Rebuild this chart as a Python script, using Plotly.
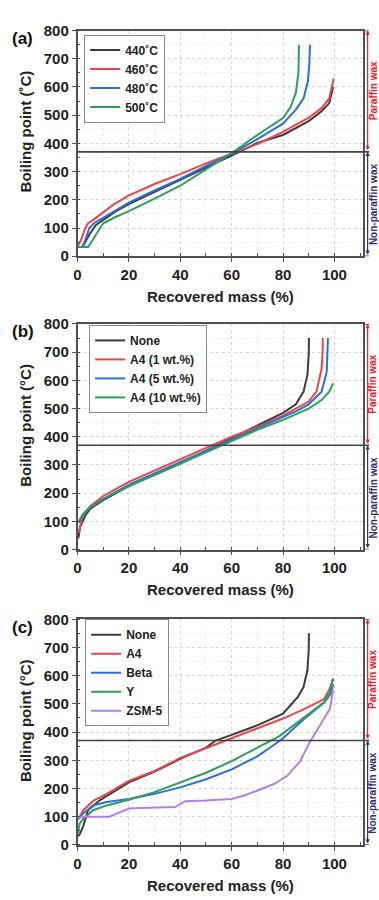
import plotly.graph_objects as go

# ---------------- data ----------------
# Panel (a): reaction temperature
a_labels = ["440˚C", "460˚C", "480˚C", "500˚C"]
a440_x = [0.5, 1.7, 3, 4.6, 7.2, 11, 15, 20, 30, 40, 50, 60, 63, 70, 80, 90, 95, 98, 99.5]
a440_y = [33, 33, 50, 77, 111, 135, 160, 185, 228, 270, 315, 357, 370, 402, 430, 479, 514, 543, 600]
a460_x = [0.1, 1.5, 2.8, 4.1, 6, 8.6, 13.7, 20, 30, 40, 50, 60, 70, 80, 90, 95, 98, 99.7]
a460_y = [36, 60, 95, 117, 128, 146, 181, 216, 256, 291, 329, 364, 398, 441, 491, 525, 560, 630]
a480_x = [1.2, 2, 3.3, 4.6, 6.5, 8.6, 13.7, 20, 30, 40, 50, 60, 70, 80, 85, 88, 89.7, 90.3, 90.5]
a480_y = [33, 33, 65, 100, 118, 129, 155, 190, 233, 274, 320, 364, 415, 470, 520, 560, 620, 690, 750]
a500_x = [0.1, 2, 4.1, 5, 6, 8, 10, 15, 20, 30, 40, 50, 60, 70, 80, 83, 85, 86, 86.2]
a500_y = [33, 33, 33, 45, 59, 90, 117, 140, 160, 204, 250, 308, 366, 430, 490, 530, 580, 650, 750]

# Panel (b): A4 loading
b_labels = ["None", "A4 (1 wt.%)", "A4 (5 wt.%)", "A4 (10 wt.%)"]
bN_x = [0.3, 1, 3, 5, 10, 20, 30, 40, 50, 60, 70, 80, 85, 88, 89.5, 90, 90.1]
bN_y = [40, 80, 120, 145, 175, 225, 265, 305, 350, 395, 440, 485, 515, 560, 620, 690, 750]
b1_x = [0.5, 2, 5, 10, 20, 30, 40, 50, 60, 70, 80, 85, 90, 93, 95, 95.4, 95.5]
b1_y = [60, 120, 155, 190, 240, 280, 320, 360, 400, 435, 475, 500, 525, 560, 640, 700, 750]
b5_x = [0.5, 2, 5, 10, 20, 30, 40, 50, 60, 70, 80, 85, 90, 95, 97, 97.4, 97.5]
b5_y = [95, 120, 150, 180, 230, 270, 310, 350, 390, 430, 470, 490, 515, 560, 630, 700, 750]
b10_x = [0.5, 2, 5, 10, 20, 30, 40, 50, 60, 70, 80, 85, 90, 95, 98, 99.5]
b10_y = [100, 125, 150, 180, 225, 265, 305, 345, 385, 425, 460, 480, 500, 530, 560, 590]

# Panel (c): catalyst type
c_labels = ["None", "A4", "Beta", "Y", "ZSM-5"]
cN_x = [0.2, 1, 2.2, 4.1, 8.6, 20, 30, 40, 50, 53.8, 60, 70, 80, 85.8, 88, 89.5, 90, 90.1]
cN_y = [30, 40, 66, 123, 158, 222, 260, 305, 345, 370, 390, 424, 465, 525, 560, 620, 690, 750]
cA4_x = [0.2, 2.2, 6.4, 11.4, 20, 30, 40, 50, 56.4, 60, 70, 80, 88.4, 96, 98, 99.5]
cA4_y = [90, 123, 158, 181, 227, 262, 308, 343, 366, 378, 413, 448, 482, 517, 550, 590]
cB_x = [0.2, 2, 6, 11.4, 20, 30, 40, 50, 60, 70, 75.6, 80, 88.4, 96, 98.5, 99.5]
cB_y = [90, 110, 140, 152, 163, 181, 204, 233, 268, 314, 349, 378, 448, 505, 535, 570]
cY_x = [0.2, 0.8, 2, 6, 11.4, 20, 30, 40, 50, 60, 70, 78.3, 88.4, 96, 98.5, 99.5]
cY_y = [42, 75, 90, 123, 140, 160, 187, 222, 256, 297, 343, 384, 453, 506, 550, 590]
cZ_x = [0.2, 1, 5, 12.5, 15, 18, 20, 25, 30, 38, 40, 42, 50, 55, 60, 65, 70, 76.5,
        81.6, 86.7, 90.5, 94.4, 98.3, 99.5]
cZ_y = [88, 100, 100, 100, 110, 122, 129, 131, 132, 134, 145, 155, 157, 160, 163, 175, 192, 216,
        245, 297, 366, 424, 483, 550]

x_ticks = [0, 20, 40, 60, 80, 100]
y_ticks = [0, 100, 200, 300, 400, 500, 600, 700, 800]
wax_cut = 370

# ---------------- styling ----------------
BLACK = "#3c3c3c"
RED = "#e8474a"
BLUE = "#2e6fd8"
GREEN = "#2f9e5c"
PURPLE = "#b57ee6"
AX = "#505050"
FONT = "Liberation Sans"

W, H = 379, 900
xl, xr = 74.3, 363.0
panels = [(22, 252), (321, 551), (622, 852)]

fig = go.Figure()

series = [
    [(a440_x, a440_y, a_labels[0], BLACK), (a460_x, a460_y, a_labels[1], RED),
     (a480_x, a480_y, a_labels[2], BLUE), (a500_x, a500_y, a_labels[3], GREEN)],
    [(bN_x, bN_y, b_labels[0], BLACK), (b1_x, b1_y, b_labels[1], RED),
     (b5_x, b5_y, b_labels[2], BLUE), (b10_x, b10_y, b_labels[3], GREEN)],
    [(cN_x, cN_y, c_labels[0], BLACK), (cA4_x, cA4_y, c_labels[1], RED),
     (cB_x, cB_y, c_labels[2], BLUE), (cY_x, cY_y, c_labels[3], GREEN),
     (cZ_x, cZ_y, c_labels[4], PURPLE)],
]
legend_pos = [(81, 26), (86, 322), (82, 622)]
panel_tags = ["(a)", "(b)", "(c)"]
ytitles = ["Boiling point (˚C)", "Boiling point (°C)", "Boiling point (°C)"]

def px_x(p):
    return p / W

def px_y(p):
    return 1 - p / H

BOLD = dict(family=FONT, weight="bold")

annotations = []
shapes = []
for i, (top, bot) in enumerate(panels):
    n = "" if i == 0 else str(i + 1)
    xa, ya = "x" + n, "y" + n
    lg = "legend" + n
    for xs, ys, name, col in series[i]:
        fig.add_trace(go.Scatter(x=xs, y=ys, name=name, mode="lines",
                                 line=dict(color=col, width=2),
                                 xaxis=xa, yaxis=ya, legend=lg))
    axis_common = dict(showline=True, linecolor=AX, linewidth=1.5, mirror=True,
                       ticks="outside", ticklen=4, tickcolor=AX, tickwidth=1.2,
                       showgrid=True, gridcolor="#d6d6d6", griddash="dot", gridwidth=1,
                       zeroline=False,
                       tickfont=dict(BOLD, size=15, color="#222"),
                       minor=dict(ticks="inside", ticklen=3, tickcolor=AX,
                                  showgrid=True, gridcolor="#ededed", griddash="dot"))
    fig.layout["xaxis" + n] = dict(axis_common, domain=[px_x(xl), px_x(xr)],
                                   range=[0, 111.2], tickvals=x_ticks,
                                   minor=dict(axis_common["minor"], dtick=10),
                                   anchor=ya)
    fig.layout["yaxis" + n] = dict(axis_common, domain=[px_y(bot), px_y(top)],
                                   range=[0, 800], tickvals=y_ticks,
                                   minor=dict(axis_common["minor"], dtick=50),
                                   anchor=xa)
    lx, ly = legend_pos[i]
    fig.layout[lg] = dict(x=px_x(lx), y=px_y(ly), xanchor="left", yanchor="top",
                          bgcolor="white", bordercolor="#888", borderwidth=1,
                          font=dict(BOLD, size=12, color="#222"),
                          tracegroupgap=0, itemwidth=30)
    # wax cut line and box extensions
    shapes.append(dict(type="line", xref="paper", yref=ya, x0=px_x(xl), x1=px_x(369),
                       y0=wax_cut, y1=wax_cut, line=dict(color="#444", width=1.6)))
    shapes.append(dict(type="line", xref="paper", yref=ya, x0=px_x(xr), x1=px_x(369),
                       y0=800, y1=800, line=dict(color=AX, width=1.5)))
    shapes.append(dict(type="line", xref="paper", yref=ya, x0=px_x(xr), x1=px_x(369),
                       y0=0, y1=0, line=dict(color=AX, width=1.5)))
    # arrows
    annotations.append(dict(xref="paper", yref=ya, x=px_x(367.5), y=800,
                            axref="pixel", ayref=ya, ax=0, ay=wax_cut, text="",
                            showarrow=True, arrowside="end+start", arrowhead=2,
                            arrowsize=0.7, arrowwidth=1.2, arrowcolor="#e8202a"))
    annotations.append(dict(xref="paper", yref=ya, x=px_x(367.5), y=wax_cut,
                            axref="pixel", ayref=ya, ax=0, ay=0, text="",
                            showarrow=True, arrowside="end+start", arrowhead=2,
                            arrowsize=0.7, arrowwidth=1.2, arrowcolor="#2a2f7a"))
    annotations.append(dict(xref="paper", yref=ya, x=px_x(373), y=(800 + wax_cut) / 2,
                            xanchor="center", yanchor="middle",
                            text="Paraffin wax", textangle=-90, showarrow=False,
                            font=dict(BOLD, size=10, color="#e8202a")))
    annotations.append(dict(xref="paper", yref=ya, x=px_x(373), y=wax_cut / 2,
                            xanchor="center", yanchor="middle",
                            text="Non-paraffin wax", textangle=-90, showarrow=False,
                            font=dict(BOLD, size=10, color="#2a2f7a")))
    # titles
    annotations.append(dict(xref="paper", yref="paper", x=px_x(22), y=px_y(top + 103),
                            xanchor="center", yanchor="middle",
                            text=ytitles[i], textangle=-90, showarrow=False,
                            font=dict(BOLD, size=15, color="#222")))
    annotations.append(dict(xref="paper", yref="paper", x=px_x((xl + xr) / 2), y=px_y(bot + 41),
                            xanchor="center", yanchor="middle",
                            text="Recovered mass (%)", showarrow=False,
                            font=dict(BOLD, size=15, color="#222")))
    annotations.append(dict(xref="paper", yref="paper", x=px_x(19), y=px_y(top + 8),
                            xanchor="center", yanchor="middle",
                            text=panel_tags[i], showarrow=False,
                            font=dict(BOLD, size=17, color="#111")))

fig.update_layout(width=W, height=H, autosize=False,
                  margin=dict(l=0, r=0, t=0, b=0),
                  paper_bgcolor="white", plot_bgcolor="white",
                  font=dict(family=FONT, size=15, color="#222", weight="bold"),
                  annotations=annotations, shapes=shapes)

fig.write_html("out.html")
